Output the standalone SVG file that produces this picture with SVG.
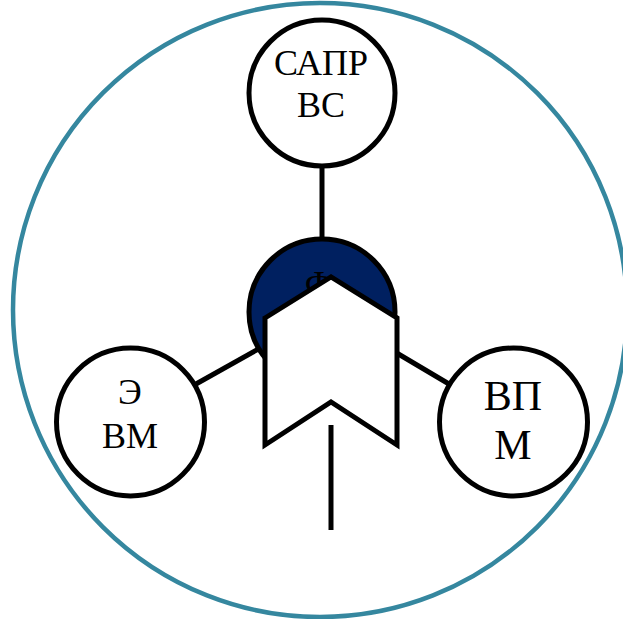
<svg xmlns="http://www.w3.org/2000/svg" width="623" height="619" viewBox="0 0 623 619">
<style>
.node{fill:#fff;stroke:#000;stroke-width:5}
.conn{stroke:#000;stroke-width:5;fill:none}
.t{font-family:"Liberation Serif","Times New Roman",serif;fill:#000;text-anchor:middle}
</style>
<rect width="623" height="619" fill="#fff"/>
<circle id="frame" cx="320" cy="310" r="307" fill="none" stroke="#35879f" stroke-width="4.5"/>
<g id="connectors">
<line class="conn" x1="322" y1="166" x2="322" y2="240"/>
<line class="conn" x1="196" y1="384" x2="262" y2="347"/>
<line class="conn" x1="395" y1="352" x2="449" y2="384"/>
</g>
<g id="node-sapr">
<circle class="node" cx="322" cy="93" r="73"/>
<text class="t" x="321" y="75" font-size="36">САПР</text>
<text class="t" x="321" y="117" font-size="36">ВС</text>
</g>
<g id="node-evm">
<circle class="node" cx="130.5" cy="422" r="74"/>
<text class="t" x="130" y="404" font-size="36">Э</text>
<text class="t" x="130" y="448" font-size="36">ВМ</text>
</g>
<g id="node-vpm">
<circle class="node" cx="513.5" cy="422" r="74"/>
<text class="t" x="513" y="410" font-size="42">ВП</text>
<text class="t" x="513" y="459" font-size="42">М</text>
</g>
<g id="node-f">
<circle cx="322" cy="312" r="73" fill="#002060" stroke="#000" stroke-width="5"/>
<text class="t" x="319" y="296" font-size="36">Ф</text>
</g>
<g id="node-arrow">
<polygon class="node" points="265,318 331,277 397,318 397,445 331,402 265,445"/>
<line class="conn" x1="331" y1="425" x2="331" y2="530"/>
</g>
</svg>
